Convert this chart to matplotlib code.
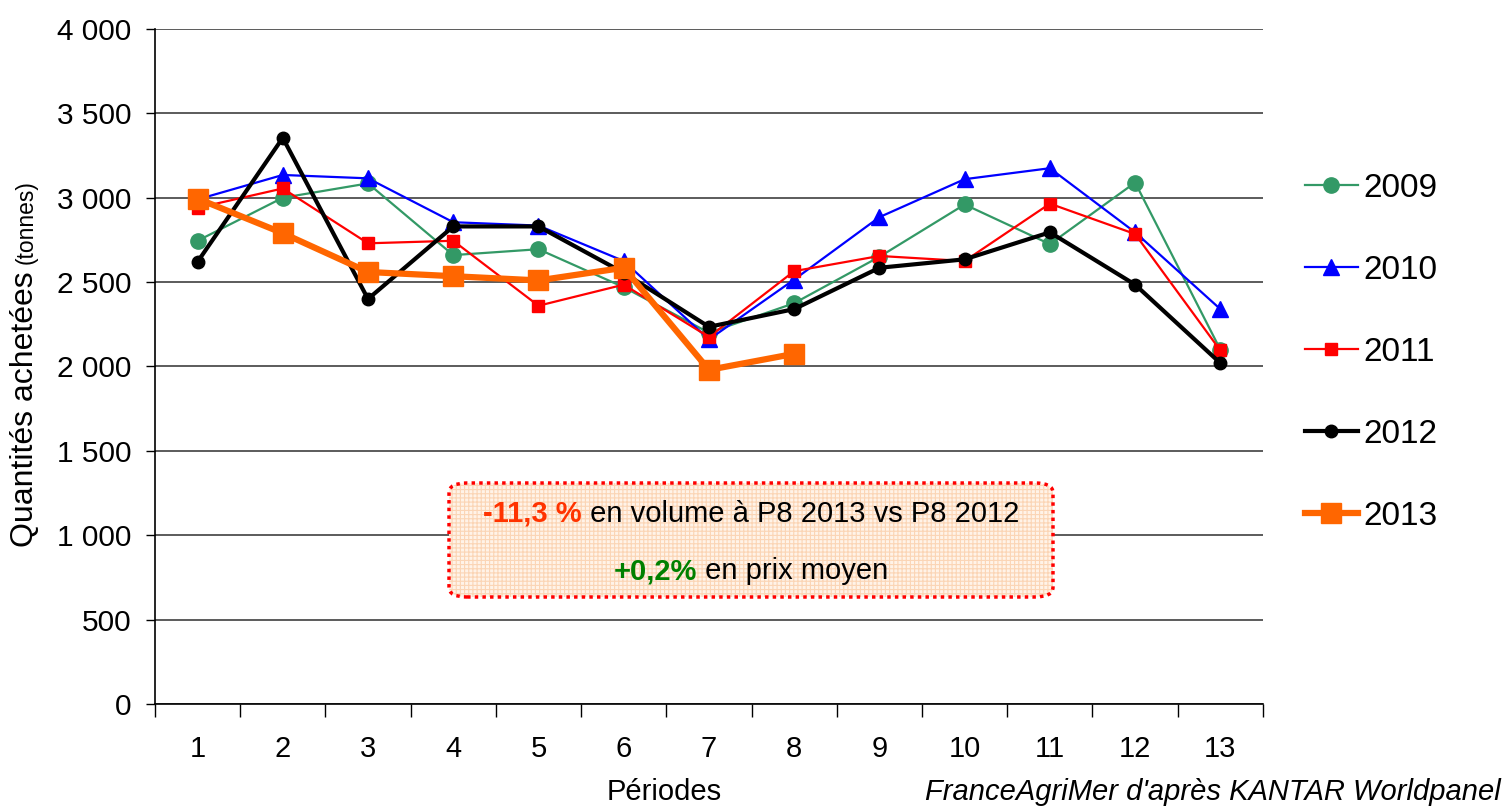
import matplotlib
matplotlib.use('Agg')
import matplotlib.pyplot as plt
import numpy as np
from matplotlib.patches import FancyBboxPatch

plt.rcParams['font.family'] = ['Liberation Sans', 'DejaVu Sans']
plt.rcParams['hatch.linewidth'] = 0.8

periodes = list(range(1, 14))
v2009 = [2745, 3000, 3085, 2660, 2695, 2470, 2200, 2375, 2650, 2960, 2725, 3090, 2100]
v2010 = [2990, 3135, 3115, 2855, 2835, 2625, 2160, 2515, 2885, 3110, 3175, 2795, 2340]
v2011 = [2940, 3055, 2730, 2745, 2360, 2485, 2175, 2565, 2655, 2625, 2965, 2785, 2095]
v2012 = [2620, 3355, 2400, 2830, 2830, 2555, 2235, 2340, 2585, 2635, 2795, 2485, 2020]
v2013 = [2995, 2790, 2560, 2535, 2510, 2585, 1980, 2075]
yticks = [0, 500, 1000, 1500, 2000, 2500, 3000, 3500, 4000]
ytick_labels = ['0', '500', '1 000', '1 500', '2 000', '2 500', '3 000', '3 500', '4 000']

fig = plt.figure(figsize=(15.1, 8.1), dpi=100)
ax = fig.add_axes([0.1026, 0.1309, 0.7338, 0.8333])

ax.plot(periodes, v2009, color='#339966', lw=1.6, marker='o', ms=11, label='2009')
ax.plot(periodes, v2010, color='#0000ff', lw=1.6, marker='^', ms=12, label='2010')
ax.plot(periodes, v2011, color='#ff0000', lw=1.6, marker='s', ms=9, label='2011')
ax.plot(periodes, v2012, color='#000000', lw=3, marker='o', ms=9, label='2012')
ax.plot(periodes[:len(v2013)], v2013, color='#ff6600', lw=4.5, marker='s', ms=14, label='2013')

ax.set_xlim(0.5, 13.5)
ax.set_ylim(0, 4000)
ax.set_yticks(yticks)
ax.set_yticklabels(ytick_labels, fontsize=21.5)
ax.set_xticks(periodes)
ax.set_xticklabels([str(p) for p in periodes], fontsize=21)
ax.set_xticks(np.arange(0.5, 14, 1), minor=True)
ax.tick_params(axis='x', which='major', length=0, pad=22)
ax.tick_params(axis='x', which='minor', length=9, width=1, direction='out')
ax.tick_params(axis='y', length=6.5, width=1, direction='out', pad=10.5)
ax.grid(axis='y', color='#404040', lw=1.2)
ax.set_axisbelow(True)
for s in ['top', 'right']:
    ax.spines[s].set_visible(False)
for s in ['left', 'bottom']:
    ax.spines[s].set_linewidth(1.2)

# legend
ax.legend(loc='upper left', bbox_to_anchor=(1.0255, 0.807), frameon=False, fontsize=24,
          handlelength=1.6, labelspacing=1.53, handletextpad=0.15, borderaxespad=0)

# axis labels
lab1 = fig.text(33 / 1510, 1 - 547 / 810, 'Quantités achetées', rotation=90, fontsize=23,
                ha='left', va='baseline', rotation_mode='anchor')
fig.canvas.draw()
h1 = lab1.get_window_extent(fig.canvas.get_renderer()).height / fig.bbox.height
fig.text(33 / 1510, 1 - 547 / 810 + h1 + 7 / 810, '(tonnes)', rotation=90, fontsize=16.5,
         ha='left', va='baseline', rotation_mode='anchor')
fig.text(0.440, 0.022, 'Périodes', fontsize=21, ha='center', va='center')
fig.text(0.994, 0.022, "FranceAgriMer d'après KANTAR Worldpanel", fontsize=21,
         style='italic', ha='right', va='center')

# annotation box
bx, by, bw, bh = 449 / 1510, 1 - 597 / 810, 604 / 1510, 114 / 810
fill = FancyBboxPatch((bx, by), bw, bh, boxstyle='round,pad=0,rounding_size=0.012',
                      transform=fig.transFigure, facecolor='#fff3e8', edgecolor='#fbd5b5',
                      lw=0, hatch='++++', zorder=4)
fig.patches.append(fill)
border = FancyBboxPatch((bx, by), bw, bh, boxstyle='round,pad=0,rounding_size=0.012',
                        transform=fig.transFigure, facecolor='none', edgecolor='#ff0000',
                        lw=2.5, linestyle=(0, (1, 1.2)), zorder=5)
fig.patches.append(border)


def rich_line(parts, xc, y):
    texts = []
    for s, c, w in parts:
        t = fig.text(0, y, s, color=c, fontweight=w, fontsize=21, va='center', ha='left', zorder=6)
        texts.append(t)
    fig.canvas.draw()
    r = fig.canvas.get_renderer()
    widths = [t.get_window_extent(r).width / fig.bbox.width for t in texts]
    x = xc - sum(widths) / 2
    for t, w in zip(texts, widths):
        t.set_x(x)
        x += w


rich_line([('-11,3 %', '#ff3300', 'bold'), (' en volume à P8 2013 vs P8 2012', 'black', 'normal')],
          751 / 1510, 1 - 514 / 810)
rich_line([('+0,2%', '#008000', 'bold'), (' en prix moyen', 'black', 'normal')],
          751 / 1510, 1 - 571 / 810)

fig.savefig('out.png', dpi=100)
